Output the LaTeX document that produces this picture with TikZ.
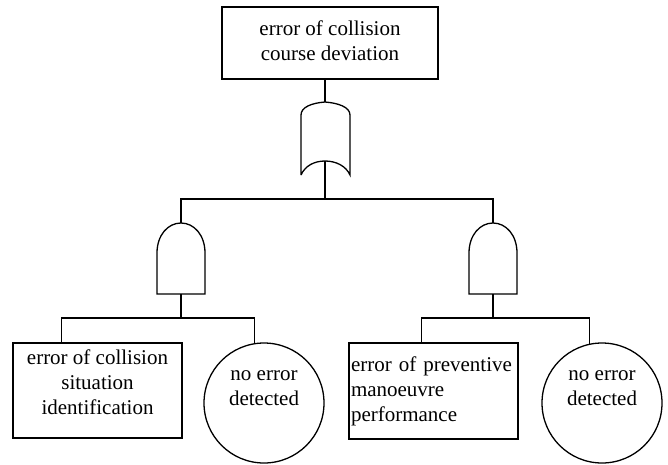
\documentclass[tikz,border=0pt]{standalone}
\usepackage{fontspec}
\setmainfont{Liberation Serif}
\newcommand{\padbelow}[1]{\rule[-#1]{0pt}{#1}}

\begin{document}
\begin{tikzpicture}[x=1pt, y=-1pt,
     box/.style = {draw, rectangle, line width=1.3pt, inner sep=2pt, align=center,
      font=\fontsize{21pt}{25pt}\selectfont},
     event/.style = {draw, circle, line width=1.3pt, minimum size=120pt, inner sep=0pt,
      align=center, font=\fontsize{21pt}{25pt}\selectfont},
     gate/.style = {draw, line width=1.3pt},
     wire/.style = {draw, line width=1.3pt}
    ]
    \useasboundingbox (0,0) rectangle (668,464);

    \node [box, minimum width=216pt, minimum height=72pt] (top) at (330,43)
      {error of collision\\course deviation\padbelow{5pt}};
    \node [box, minimum width=169pt, minimum height=95pt] (lbox) at (97.5,390.5)
      {error of collision\\situation\\identification\padbelow{17pt}};
    \node [event] (lcirc) at (264,403) {no error\\detected\padbelow{30pt}};
    \node [box, text width=165pt, align=left, minimum height=96pt] (rbox) at (433.5,391)
      {error of preventive\\manoeuvre\\performance};
    \node [event] (rcirc) at (602,403) {no error\\detected\padbelow{30pt}};

    % OR gate
    \draw[gate] (301,175) -- (301,115) .. controls (301,107) and (312,103) .. (325,102)
      .. controls (338,103) and (350,107) .. (350,115) -- (350,175)
      .. controls (346,166) and (336,161) .. (325,161)
      .. controls (314,161) and (305,166) .. (301,175);
    \coordinate (or-in) at (325,102);
    \coordinate (or-out) at (325,161);
    \coordinate (orbar) at (325,199);

    % AND gates
    \draw[gate, shift={(181,0)}] (-24,294) -- (-24,253) .. controls (-24,235) and (-13,223) .. (0,223)
      .. controls (13,223) and (24,235) .. (24,253) -- (24,294) -- cycle;
    \draw[gate, shift={(493,0)}] (-24,294) -- (-24,253) .. controls (-24,235) and (-13,223) .. (0,223)
      .. controls (13,223) and (24,235) .. (24,253) -- (24,294) -- cycle;
    \coordinate (andL-in) at (181,223);
    \coordinate (andL-out) at (181,294);
    \coordinate (andR-in) at (493,223);
    \coordinate (andR-out) at (493,294);

    \draw[wire] (or-in) -- (or-in |- top.south);
    \draw[wire] (or-out) -- (orbar);
    \draw[wire] (andL-in) |- (orbar) -| (andR-in);
    \draw[wire] (andL-out) -- ++(0,24) coordinate (lsplit);
    \draw[wire] (lbox.127.5) |- (lsplit) -| (lcirc.99.6);
    \draw[wire] (andR-out) -- ++(0,24) coordinate (rsplit);
    \draw[wire] (rbox.104.6) |- (rsplit) -| (rcirc.102.5);

\end{tikzpicture}
\end{document}
